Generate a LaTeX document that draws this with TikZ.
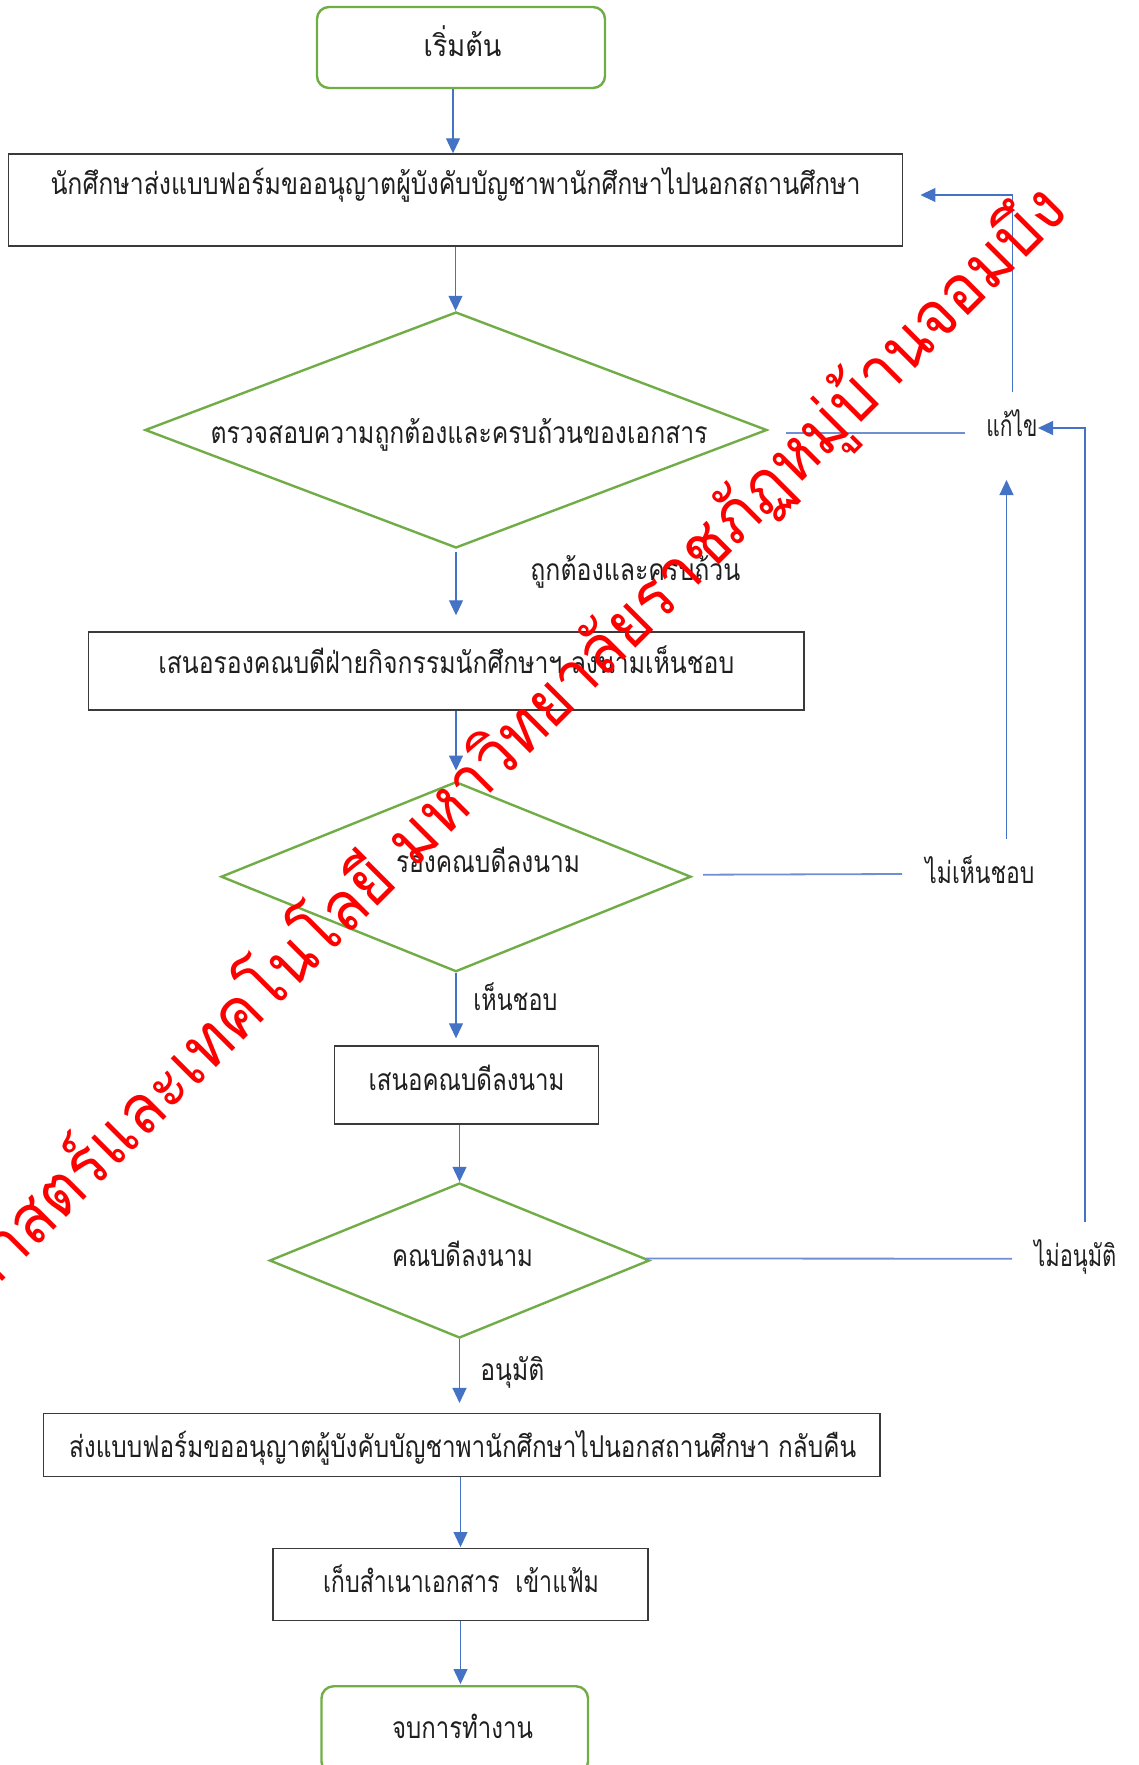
\documentclass[tikz,border=0pt]{standalone}
\usepackage{fontspec}
\usepackage{graphicx}
\usetikzlibrary{shapes.geometric,arrows.meta,calc}
\newfontfamily\thai[Script=Thai]{Loma}
\newcommand\fitw[2]{\resizebox{#1}{\height}{#2}}
\definecolor{flblue}{HTML}{4472C4}
\definecolor{sideblue}{HTML}{6F8FD2}
\definecolor{flgreen}{HTML}{70AD47}
\definecolor{boxgray}{HTML}{3A3A3A}
\definecolor{wmred}{HTML}{FF0000}
\tikzset{
  procbox/.style={draw=boxgray, line width=0.7pt, inner sep=0pt},
  termbox/.style={draw=flgreen, line width=1.2pt, rounded corners=6pt, inner sep=0pt},
  decide/.style={diamond, draw=flgreen, line width=1.2pt, inner sep=0pt},
  txt/.style={font=\thai\fontsize{15}{18}\selectfont, inner sep=0pt, text=black!88},
  arr/.style={draw=flblue, line width=0.55pt, -{Triangle[length=7.5pt,width=7pt]}},
  sideline/.style={draw=sideblue, line width=0.9pt},
  wmark/.style={font=\thai\fontsize{34}{37}\selectfont, text=wmred, inner sep=0pt}
}
\begin{document}
\begin{tikzpicture}[x=0.5pt,y=-0.5pt]
\useasboundingbox (0,0) rectangle (1139,1765);
\clip (0,0) rectangle (1139,1765);
% shapes
\node[termbox, minimum width=144pt, minimum height=40.5pt] (start) at (461,47.5) {};
\node[procbox, minimum width=446.75pt, minimum height=46pt] (box1) at (455.5,200) {};
\node[decide, minimum width=311pt, minimum height=118pt] (d1) at (456,430) {};
\node[procbox, minimum width=357.75pt, minimum height=39pt] (box2) at (446.25,671) {};
\node[decide, minimum width=235pt, minimum height=95pt] (d2) at (456,876.7) {};
\node[procbox, minimum width=132pt, minimum height=39pt] (box3) at (466.6,1085) {};
\node[decide, minimum width=190pt, minimum height=77.5pt] (d3) at (459.5,1260.5) {};
\node[procbox, minimum width=418.25pt, minimum height=31.35pt] (box4) at (461.75,1445) {};
\node[procbox, minimum width=187.5pt, minimum height=35.85pt] (box5) at (460.5,1584.6) {};
\node[termbox, minimum width=133.25pt, minimum height=43.75pt] (finish) at (454.75,1730) {};
% texts
\node[txt, anchor=base] (startT) at (462.5,57) {\fitw{39pt}{เริ่มต้น}};
\node[txt, anchor=base] (box1T) at (455.5,195) {\fitw{405pt}{นักศึกษาส่งแบบฟอร์มขออนุญาตผู้บังคับบัญชาพานักศึกษาไปนอกสถานศึกษา}};
\node[txt, anchor=base] (d1T) at (459,443) {\fitw{248.5pt}{ตรวจสอบความถูกต้องและครบถ้วนของเอกสาร}};
\node[txt, anchor=base west] (okT) at (530,580) {\fitw{105pt}{ถูกต้องและครบถ้วน}};
\node[txt, anchor=base] (box2T) at (446.3,673) {\fitw{288pt}{เสนอรองคณบดีฝ่ายกิจกรรมนักศึกษาฯ ลงนามเห็นชอบ}};
\node[txt, anchor=base] (d2T) at (488,872) {\fitw{92pt}{รองคณบดีลงนาม}};
\node[txt, anchor=base west] (noseeT) at (925,883) {\fitw{54.5pt}{ไม่เห็นชอบ}};
\node[txt, anchor=base west] (seeT) at (473,1010) {\fitw{42pt}{เห็นชอบ}};
\node[txt, anchor=base] (box3T) at (466.6,1090) {\fitw{98pt}{เสนอคณบดีลงนาม}};
\node[txt, anchor=base] (d3T) at (462.5,1266) {\fitw{70.5pt}{คณบดีลงนาม}};
\node[txt, anchor=base west] (noappT) at (1034,1266) {\fitw{41pt}{ไม่อนุมัติ}};
\node[txt, anchor=base west] (appT) at (480,1380) {\fitw{32pt}{อนุมัติ}};
\node[txt, anchor=base] (box4T) at (462.6,1457) {\fitw{393.5pt}{ส่งแบบฟอร์มขออนุญาตผู้บังคับบัญชาพานักศึกษาไปนอกสถานศึกษา กลับคืน}};
\node[txt, anchor=base] (box5T) at (461,1592) {\fitw{138pt}{เก็บสำเนาเอกสาร~ เข้าแฟ้ม}};
\node[txt, anchor=base] (finishT) at (462.5,1738) {\fitw{70.5pt}{จบการทำงาน}};
\node[txt, anchor=base west] (fixT) at (986,436) {\fitw{25.5pt}{แก้ไข}};
% routing coordinates
\coordinate (fixTop) at (1012.5,392);
\coordinate (fixBot) at (1006.5,480);
\coordinate (fixRight) at (1085,428);
\coordinate (fixTip) at (1038,428);
\coordinate (noseeTop) at (1006.5,839);
\coordinate (noappTop) at (1085,1221.6);
\coordinate (d1End) at (965,433);
\coordinate (d2End) at (902,874);
\coordinate (d3End) at (1012,1258.7);
% main flow
\draw[arr] ($(start.south)+(-4pt,0)$) -- ($(start.south |- box1.north)+(-4pt,0)$);
\draw[arr] (box1.south) -- (box1.south |- d1.north);
\draw[arr, shorten <=1.5pt, shorten >=8pt] (d1.south) -- (d1.south |- box2.north);
\draw[arr, shorten >=5pt] (d2.north |- box2.south) -- (d2.north);
\draw[arr, shorten >=3.5pt] (d2.south) -- (d2.south |- box3.north);
\draw[arr] (d3.north |- box3.south) -- (d3.north);
\draw[arr, shorten >=5pt] (d3.south) -- (d3.south |- box4.north);
\draw[arr, shorten >=0.5pt] (box5.north |- box4.south) -- (box5.north);
\draw[arr, shorten >=0.5pt] (box5.south) -- (box5.south |- finish.north);
% side branches
\draw[sideline] ($(d1.east)+(9pt,-1.5pt)$) -- (d1End);
\draw[sideline] ($(d2.east)+(5.5pt,1pt)$) -- (d2End);
\draw[sideline] ($(d3.east)+(-2.5pt,1pt)$) -- (d3End);
\draw[arr] (fixTop) |- ($(box1.east)+(8.75pt,2.5pt)$);
\draw[arr] (noseeTop) -- (fixBot);
\draw[arr] (noappTop) -- (fixRight) -- (fixTip);
% watermark
\node[wmark, rotate=45, anchor=base east] (wm) at (1070,214) {\scalebox{0.925}[1]{คณะวิทยาศาสตร์และเทคโนโลยี มหาวิทยาลัยราชภัฏหมู่บ้านจอมบึง}};
\end{tikzpicture}
\end{document}
